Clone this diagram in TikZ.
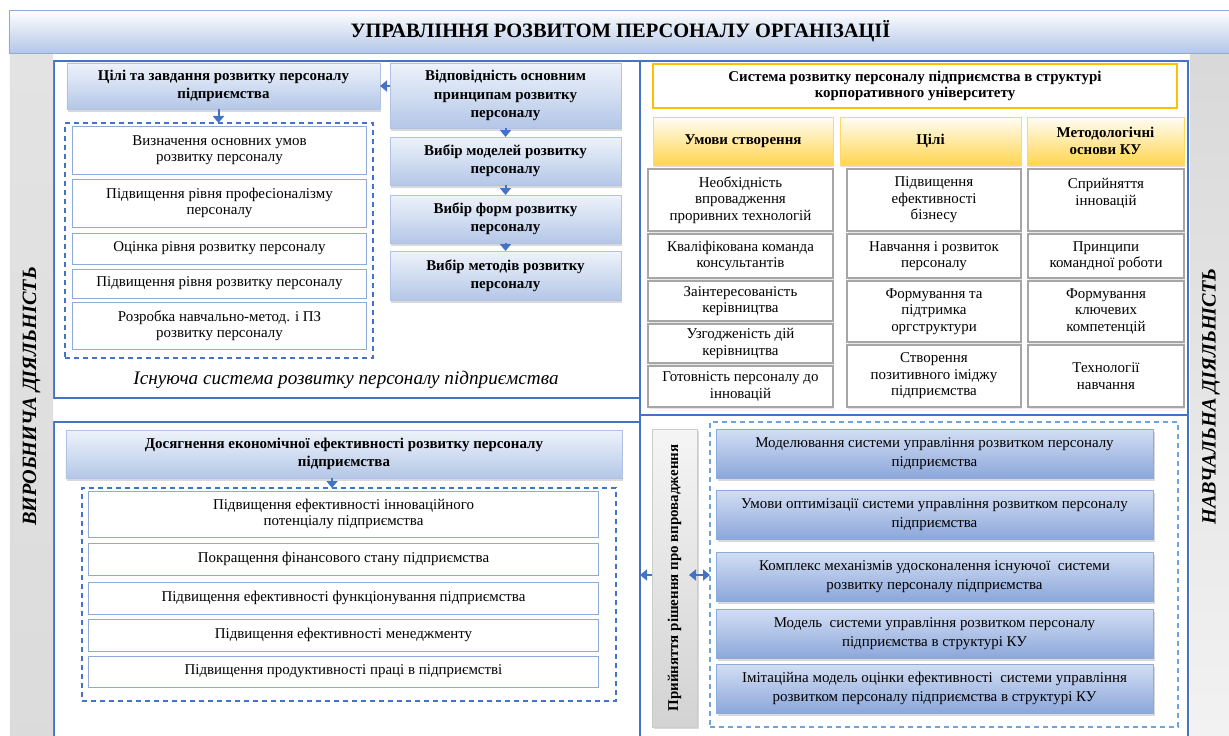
\documentclass[tikz,border=0pt]{standalone}
\usepackage{graphicx}
\usepackage{fontspec}
\setmainfont{Liberation Serif}
\usetikzlibrary{arrows.meta,shadows}
\definecolor{panelBlue}{HTML}{4472C4}
\definecolor{lineBlue}{HTML}{8EAADB}
\definecolor{paleBlue}{HTML}{B4C7E7}
\definecolor{skyBlue}{HTML}{EEF3FB}
\definecolor{dashBlue}{HTML}{6FA3DB}
\definecolor{deepBlue}{HTML}{8CA7DB}
\definecolor{mistBlue}{HTML}{D3DEF3}
\definecolor{goldLine}{HTML}{FFC000}
\definecolor{goldFill}{HTML}{FFD54F}
\definecolor{cellGray}{HTML}{A6A6A6}
\newcommand{\cellText}{\fontsize{15}{16.5}\selectfont}
\newcommand{\boxText}{\fontsize{15}{18.5}\selectfont}
\newcommand{\sideText}{\fontsize{19}{22}\selectfont\bfseries\itshape}
%% A box given by its upper left and lower right corners (pixels).
\newcommand{\pixBox}[7]{%%
  \pgfmathsetmacro{\boxW}{#4-#2}
  \pgfmathsetmacro{\boxH}{#5-#3}
  \node[#6,minimum width=\boxW bp,minimum height=\boxH bp] (#1) at ({(#2+#4)/2},{(#3+#5)/2}) {#7};
}
%% The same, but the text runs upwards.
\newcommand{\pixTurnBox}[7]{%%
  \pgfmathsetmacro{\boxW}{#4-#2}
  \pgfmathsetmacro{\boxH}{#5-#3}
  \node[#6,rotate=90,minimum width=\boxH bp,minimum height=\boxW bp] (#1) at ({(#2+#4)/2},{(#3+#5)/2}) {#7};
}
\newcommand{\existingSystem}{%%
  \pixBox{existingPanel}{54}{61}{640}{398}{panelStyle}{}
  %% The goals and their tasks.
  \pixBox{goalsGroup}{65}{123}{373}{358}{groupStyle}{}
  \pixBox{goals}{67}{63}{380}{109}{blueBoxStyle}{Цілі та завдання розвитку персоналу\\підприємства}
  \pixBox{taskA}{73}{127}{366}{174}{taskStyle}{Визначення основних умов\\розвитку персоналу}
  \pixBox{taskB}{73}{179}{366}{227}{taskStyle}{Підвищення рівня професіоналізму\\персоналу}
  \pixBox{taskC}{73}{233}{366}{264}{taskStyle}{Оцінка рівня розвитку персоналу}
  \pixBox{taskD}{73}{269}{366}{298}{taskStyle}{Підвищення рівня розвитку персоналу}
  \pixBox{taskE}{73}{302}{366}{349}{taskStyle}{Розробка навчально-метод. і ПЗ\\розвитку персоналу}
  %% The chain of choices.
  \pixBox{principles}{390}{63}{621}{128}{blueBoxStyle}{Відповідність основним\\принципам розвитку\\персоналу}
  \pixBox{models}{390}{137}{621}{185}{blueBoxStyle}{Вибір моделей розвитку\\персоналу}
  \pixBox{forms}{390}{195}{621}{243}{blueBoxStyle}{Вибір форм розвитку\\персоналу}
  \pixBox{methods}{390}{251}{621}{300}{blueBoxStyle}{Вибір методів розвитку\\персоналу}
  \node[captionStyle] (existingCaption) at (346,380) {\scalebox{1.1}{Існуюча система розвитку персоналу підприємства}};
  \draw[arrowStyle] (principles.west |- goals.east) -- (goals.east);
  \draw[arrowStyle] ([xshift=-5bp]goals.south) -- ([xshift=-5bp]goals.south |- goalsGroup.north);
  \draw[arrowStyle] (principles) -- (models);
  \draw[arrowStyle] (models) -- (forms);
  \draw[arrowStyle] (forms) -- (methods);
}
\newcommand{\economicEffect}{%%
  \pixBox{effectPanel}{54}{422}{640}{740}{panelStyle}{}
  \pixBox{effectGroup}{82}{488}{616}{701}{groupStyle}{}
  \pixBox{effect}{66}{430}{622}{478}{blueBoxStyle}{Досягнення економічної ефективності розвитку персоналу\\підприємства}
  \pixBox{effectA}{89}{491}{598}{537}{taskStyle}{Підвищення ефективності інноваційного\\потенціалу підприємства}
  \pixBox{effectB}{89}{543}{598}{575}{taskStyle}{Покращення фінансового стану підприємства}
  \pixBox{effectC}{89}{582}{598}{614}{taskStyle}{Підвищення ефективності функціонування підприємства}
  \pixBox{effectD}{89}{619}{598}{651}{taskStyle}{Підвищення ефективності менеджменту}
  \pixBox{effectE}{89}{656}{598}{687}{taskStyle}{Підвищення продуктивності праці в підприємстві}
  \draw[arrowStyle] ([xshift=-12bp]effect.south) -- ([xshift=-12bp]effect.south |- effectGroup.north);
}
\newcommand{\corpStructure}{%%
  \pixBox{corpPanel}{640}{61}{1188}{415}{panelStyle}{}
  \pixBox{corpTitle}{653}{64}{1177}{108}{goldTitleStyle}{Система розвитку персоналу підприємства в структурі\\корпоративного університету}
  %% Column heads.
  \pixBox{headTerms}{653}{117}{833}{165}{goldHeadStyle}{Умови створення}
  \pixBox{headGoals}{840}{117}{1021}{165}{goldHeadStyle}{Цілі}
  \pixBox{headBasis}{1027}{117}{1184}{165}{goldHeadStyle}{Методологічні\\основи КУ}
  %% Conditions.
  \pixBox{termA}{648}{169}{833}{231}{cellStyle}{Необхідність\\впровадження\\проривних технологій}
  \pixBox{termB}{648}{234}{833}{278}{cellStyle}{Кваліфікована команда\\консультантів}
  \pixBox{termC}{648}{281}{833}{321}{cellStyle}{Заінтересованість\\керівництва}
  \pixBox{termD}{648}{324}{833}{363}{cellStyle}{Узгодженість дій\\керівництва}
  \pixBox{termE}{648}{366}{833}{407}{cellStyle}{Готовність персоналу до\\інновацій}
  %% Goals.
  \pixBox{aimA}{847}{169}{1021}{231}{cellStyle}{Підвищення\\ефективності\\бізнесу}
  \pixBox{aimB}{847}{234}{1021}{278}{cellStyle}{Навчання і розвиток\\персоналу}
  \pixBox{aimC}{847}{281}{1021}{342}{cellStyle}{Формування та\\підтримка\\оргструктури}
  \pixBox{aimD}{847}{345}{1021}{407}{cellStyle}{Створення\\позитивного іміджу\\підприємства}
  %% Methodological basis.
  \pixBox{basisA}{1028}{169}{1184}{231}{cellStyle}{Сприйняття\\інновацій\\~}
  \pixBox{basisB}{1028}{234}{1184}{278}{cellStyle}{Принципи\\командної роботи}
  \pixBox{basisC}{1028}{281}{1184}{342}{cellStyle}{Формування\\ключевих\\компетенцій}
  \pixBox{basisD}{1028}{345}{1184}{407}{cellStyle}{Технології\\навчання}
}
\newcommand{\implementation}{%%
  \pixBox{implPanel}{640}{415}{1188}{740}{panelStyle}{}
  \pixBox{implGroup}{710}{422}{1178}{727}{lightGroupStyle}{}
  \pixTurnBox{decision}{652}{429}{697}{727}{decisionStyle}{Прийняття рішення про впровадження}
  \pixBox{implA}{716}{429}{1153}{478}{implBoxStyle}{Моделювання системи управління розвитком персоналу\\підприємства}
  \pixBox{implB}{716}{490}{1153}{539}{implBoxStyle}{Умови оптимізації системи управління розвитком персоналу\\підприємства}
  \pixBox{implC}{716}{552}{1153}{601}{implBoxStyle}{Комплекс механізмів удосконалення існуючої\ \ системи\\розвитку персоналу підприємства}
  \pixBox{implD}{716}{609}{1153}{658}{implBoxStyle}{Модель\ \ системи управління розвитком персоналу\\підприємства в структурі КУ}
  \pixBox{implE}{716}{664}{1153}{713}{implBoxStyle}{Імітаційна модель оцінки ефективності\ \ системи управління\\розвитком персоналу підприємства в структурі КУ}
  \coordinate (decisionLink) at (640,575);
  \draw[arrowStyle] (decision.north |- decisionLink) -- (decisionLink);
  \draw[twoWayStyle] ([xshift=-8bp]decision.south |- decisionLink) -- (implGroup.west |- decisionLink);
}

\begin{document}
\begin{tikzpicture}[x=1bp,y=-1bp,%%
  panelStyle/.style={draw=panelBlue,line width=1.6bp,inner sep=0pt,outer sep=0pt},%%
  groupStyle/.style={draw=panelBlue,line width=1.3bp,dash pattern=on 5bp off 4bp,inner sep=0pt,outer sep=0pt},%%
  lightGroupStyle/.style={groupStyle,draw=dashBlue},%%
  titleStyle/.style={draw=lineBlue,line width=0.8bp,top color=white,bottom color=paleBlue,inner sep=0pt,font=\fontsize{19}{22}\selectfont\bfseries},%%
  stripStyle/.style={inner sep=0pt,outer sep=0pt,font=\sideText},%%
  blueBoxStyle/.style={draw=lineBlue!70,line width=0.6bp,top color=skyBlue,bottom color=paleBlue,drop shadow={shadow xshift=1bp,shadow yshift=-2.5bp,opacity=0.3},align=center,inner sep=0pt,outer sep=0pt,font=\boxText\bfseries},%%
  taskStyle/.style={draw=lineBlue,line width=1bp,fill=white,align=center,inner sep=0pt,outer sep=0pt,font=\cellText},%%
  goldTitleStyle/.style={draw=goldLine,line width=1.6bp,fill=white,align=center,inner sep=0pt,font=\cellText\bfseries},%%
  goldHeadStyle/.style={draw=goldLine!60,line width=0.6bp,top color=goldFill!5,bottom color=goldFill,drop shadow={shadow xshift=1bp,shadow yshift=-2bp,opacity=0.25},align=center,inner sep=0pt,font=\cellText\bfseries},%%
  cellStyle/.style={draw=cellGray,line width=1.6bp,fill=white,drop shadow={shadow xshift=1bp,shadow yshift=-1.5bp,opacity=0.2},align=center,inner sep=0pt,font=\cellText},%%
  implBoxStyle/.style={draw=lineBlue,line width=0.6bp,top color=mistBlue,bottom color=deepBlue,drop shadow={shadow xshift=1.5bp,shadow yshift=-2.5bp,opacity=0.3},align=center,inner sep=0pt,outer sep=0pt,font=\fontsize{15}{19}\selectfont},%%
  decisionStyle/.style={draw=gray!40,line width=0.6bp,top color=gray!8,bottom color=gray!35,drop shadow={shadow xshift=2bp,shadow yshift=-2bp,opacity=0.3},inner sep=0pt,outer sep=0pt,font=\boxText\bfseries},%%
  arrowStyle/.style={draw=panelBlue,line width=2bp,-{Triangle[length=7bp,width=11bp]}},%%
  twoWayStyle/.style={arrowStyle,{Triangle[length=7bp,width=11bp]}-{Triangle[length=7bp,width=11bp]}},%%
  captionStyle/.style={font=\fontsize{17.5}{20}\selectfont\itshape}
]
%%
\useasboundingbox (0,0) rectangle (1229,736);
%%
%% The four parts of the scheme.
\existingSystem
\economicEffect
\corpStructure
\implementation
%%
%% The two kinds of activity at the sides.
\pixTurnBox{productionStrip}{10}{53}{53}{740}{stripStyle,top color=gray!22,middle color=gray!6,bottom color=gray!28}{\scalebox{1.07}{ВИРОБНИЧА ДІЯЛЬНІСТЬ}}
\pixTurnBox{learningStrip}{1190}{53}{1232}{740}{stripStyle,top color=gray!30,bottom color=gray!10}{\scalebox{1.07}{НАВЧАЛЬНА ДІЯЛЬНІСТЬ}}
%% The heading.
\pixBox{title}{9}{10}{1232}{53}{titleStyle}{\scalebox{1.08}{УПРАВЛІННЯ РОЗВИТОМ ПЕРСОНАЛУ ОРГАНІЗАЦІЇ}}
\end{tikzpicture}
\end{document}
